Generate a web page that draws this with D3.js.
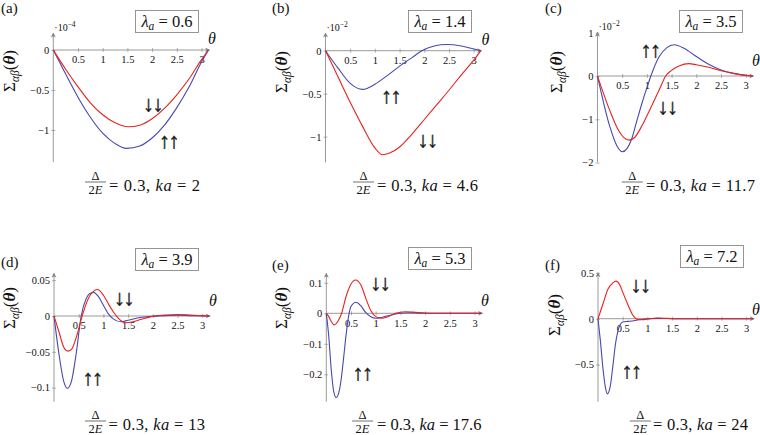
<!DOCTYPE html>
<html>
<head>
<meta charset="utf-8">
<script src="https://cdn.jsdelivr.net/npm/d3@7"></script>
<style>
body { margin: 0; background: #fff; }
text { font-family: "Liberation Serif", "DejaVu Serif", serif; fill: #111; }
</style>
</head>
<body>
<svg id="chart" width="760" height="435"></svg>
<script>
// values
var panelLetters = ["a", "b", "c", "d", "e", "f"];
var lambdaValues = [0.6, 1.4, 3.5, 3.9, 5.3, 7.2];
var kaValues = [2, 4.6, 11.7, 13, 17.6, 24];
var deltaRatio = 0.3;
var xTicks = [0.5, 1, 1.5, 2, 2.5, 3];
var yTickSets = [[-1, -0.5, 0], [-1, -0.5, 0], [-2, -1, 0, 1], [-0.1, -0.05, 0, 0.05], [-0.2, -0.1, 0, 0.1], [-0.5, 0, 0.5]];
var yExponents = [-4, -2, -2, null, null, null];

// [theta, Sigma] ; "up" = ↑↑ (blue), "down" = ↓↓ (red)
var aUp = [[0,0],[0.25,-0.30],[0.5,-0.59],[0.75,-0.84],[1,-1.04],[1.25,-1.17],[1.48,-1.23],[1.75,-1.2],[2,-1.1],[2.25,-0.94],[2.5,-0.72],[2.75,-0.46],[3,-0.15],[3.1416,0]];
var aDown = [[0,0],[0.25,-0.24],[0.5,-0.46],[0.75,-0.66],[1,-0.81],[1.25,-0.91],[1.52,-0.96],[1.75,-0.94],[2,-0.86],[2.25,-0.73],[2.5,-0.56],[2.75,-0.36],[3,-0.12],[3.1416,0]];
var bUp = [[0,0],[0.25,-0.2],[0.5,-0.38],[0.75,-0.45],[1,-0.39],[1.25,-0.29],[1.5,-0.18],[1.75,-0.08],[1.95,0],[2.2,0.055],[2.45,0.072],[2.75,0.055],[3,0.02],[3.1416,0]];
var bDown = [[0,0],[0.25,-0.3],[0.5,-0.6],[0.75,-0.88],[1,-1.13],[1.15,-1.21],[1.3,-1.19],[1.5,-1.12],[1.75,-0.97],[2,-0.8],[2.25,-0.63],[2.5,-0.46],[2.75,-0.28],[3,-0.11],[3.1416,0]];
var cUp = [[0,0],[0.25,-1.17],[0.4,-1.63],[0.5,-1.75],[0.6,-1.67],[0.69,-1.46],[0.8,-1.02],[0.9,-0.63],[1,-0.27],[1.08,0],[1.25,0.45],[1.4,0.65],[1.55,0.72],[1.75,0.64],[2,0.45],[2.25,0.27],[2.5,0.14],[2.75,0.06],[3,0.015],[3.1416,0]];
var cDown = [[0,0],[0.25,-0.8],[0.4,-1.2],[0.5,-1.38],[0.64,-1.48],[0.75,-1.42],[0.9,-1.15],[1,-0.92],[1.15,-0.56],[1.25,-0.32],[1.38,0],[1.5,0.13],[1.65,0.23],[1.85,0.285],[2,0.26],[2.25,0.2],[2.5,0.12],[2.75,0.06],[3,0.015],[3.1416,0]];
var dUp = [[0,0],[0.1,-0.053],[0.2,-0.092],[0.27,-0.101],[0.35,-0.092],[0.45,-0.052],[0.55,0],[0.65,0.024],[0.72,0.031],[0.8,0.033],[0.9,0.027],[1,0.015],[1.1,0.003],[1.2,-0.004],[1.35,-0.008],[1.5,-0.006],[1.75,-0.002],[2,-0.0005],[2.25,0.0005],[2.5,0.001],[2.75,0.0005],[3.1416,0]];
var dDown = [[0,0],[0.1,-0.022],[0.2,-0.044],[0.28,-0.049],[0.35,-0.047],[0.45,-0.03],[0.57,0],[0.7,0.025],[0.88,0.037],[1,0.029],[1.1,0.017],[1.2,0.006],[1.3,-0.003],[1.45,-0.0095],[1.6,-0.008],[1.75,-0.005],[2,-0.0005],[2.25,0.0014],[2.5,0.002],[2.75,0.0014],[3,0.0005],[3.1416,0]];
var eUp = [[0,0],[0.05,-0.076],[0.1,-0.185],[0.15,-0.256],[0.2,-0.276],[0.25,-0.262],[0.3,-0.218],[0.35,-0.147],[0.4,-0.071],[0.45,-0.011],[0.5,0.022],[0.6,0.036],[0.7,0.024],[0.8,0.002],[0.9,-0.011],[1,-0.016],[1.1,-0.014],[1.25,-0.008],[1.5,0],[1.65,0.002],[1.8,0.001],[2,0],[3.1416,0]];
var eDown = [[0,0],[0.05,-0.011],[0.1,-0.027],[0.16,-0.038],[0.25,-0.022],[0.31,0],[0.4,0.055],[0.5,0.096],[0.59,0.109],[0.7,0.093],[0.8,0.049],[0.9,0.009],[1,-0.011],[1.1,-0.016],[1.25,-0.011],[1.4,0],[1.6,0.005],[1.75,0.004],[2,0.001],[2.25,0],[3.1416,0]];
var fUp = [[0,0],[0.05,-0.25],[0.1,-0.54],[0.15,-0.75],[0.19,-0.82],[0.25,-0.73],[0.3,-0.52],[0.35,-0.29],[0.4,-0.14],[0.45,-0.064],[0.5,-0.036],[0.6,-0.029],[0.7,-0.025],[0.8,-0.014],[0.9,-0.007],[1,0],[1.2,0.004],[1.4,0.002],[1.6,0],[3.1416,0]];
var fDown = [[0,0],[0.1,0.16],[0.2,0.32],[0.3,0.39],[0.36,0.41],[0.45,0.36],[0.5,0.29],[0.6,0.16],[0.7,0.043],[0.8,-0.007],[0.9,-0.011],[1,-0.004],[1.2,0.007],[1.4,0.004],[1.6,0],[3.1416,0]];

var upSeries = [aUp, bUp, cUp, dUp, eUp, fUp];
var downSeries = [aDown, bDown, cDown, dDown, eDown, fDown];

// placement of each small plot (pixels)
var layout = [
    {x0: 53.3, y0: 50, ky: 80, top: 33, bottom: 162, letter: [1, 13], box: [135, 10], sig: [9, 71], th: [208, 44], cap: [95.5, 109, 200, 0], up: [167.5, 140], down: [151.5, 103]},
    {x0: 325.5, y0: 50.7, ky: 86, top: 33, bottom: 162.3, letter: [272, 13], box: [408, 10], sig: [281, 72], th: [481.5, 45], cap: [363.5, 377, 478, 0], up: [389.5, 95], down: [426, 139]},
    {x0: 597.5, y0: 76, ky: 43.3, top: 32.3, bottom: 162.3, letter: [545, 13], box: [679, 10], sig: [556, 72], th: [752, 66], cap: [632.3, 646, 755, 0], up: [649, 49], down: [666, 106]},
    {x0: 54, y0: 316, ky: 716, top: 273.3, bottom: 401.7, letter: [1, 267], box: [135, 248], sig: [9, 308], th: [209, 306], cap: [95.5, 108.5, 205, 239], up: [91, 377.5], down: [122.5, 297.5]},
    {x0: 326.3, y0: 313.3, ky: 305, top: 273.3, bottom: 401.7, letter: [272, 270], box: [408, 247], sig: [281, 308], th: [481, 306], cap: [362.5, 377, 481.5, 239], up: [361, 372.5], down: [378.7, 282]},
    {x0: 598, y0: 318.7, ky: 91.7, top: 272.7, bottom: 401.7, letter: [545, 270], box: [680, 245], sig: [554, 315], th: [752, 315], cap: [640.3, 653, 748, 239], up: [630, 370], down: [639, 284]}
];

var axisColor = "#808080";
var upColor = "#4848ad";
var downColor = "#e8231d";
var pxPerTheta = 49.4;

var svg = d3.select("#chart");

var defs = svg.append("defs");
defs.append("marker")
    .attr("id", "arr")
    .attr("viewBox", "0 0 10 10")
    .attr("refX", 9).attr("refY", 5)
    .attr("markerWidth", 5).attr("markerHeight", 5)
    .attr("markerUnits", "userSpaceOnUse")
    .attr("orient", "auto")
    .append("path")
    .attr("d", "M0,0 L10,5 L0,10 L3,5 Z")
    .attr("fill", axisColor);

function fmt(d) {
    return d < 0 ? "\u2212" + Math.abs(d) : String(d);
}

layout.forEach(function(p, i) {
    var x = d3.scaleLinear().domain([0, Math.PI]).range([p.x0, p.x0 + pxPerTheta * Math.PI]);
    var y = d3.scaleLinear()
        .domain([-(p.bottom - p.y0) / p.ky, (p.y0 - p.top) / p.ky])
        .range([p.bottom, p.top]);
    var g = svg.append("g");

    // axes lines with arrow heads
    g.append("line")
        .attr("x1", x(0)).attr("x2", x(Math.PI) + 1)
        .attr("y1", y(0)).attr("y2", y(0))
        .attr("stroke", axisColor).attr("stroke-width", 0.8)
        .attr("marker-end", "url(#arr)");
    g.append("line")
        .attr("x1", x(0)).attr("x2", x(0))
        .attr("y1", p.bottom).attr("y2", p.top)
        .attr("stroke", axisColor).attr("stroke-width", 0.8)
        .attr("marker-end", "url(#arr)");

    var gx = g.append("g")
        .attr("transform", "translate(0," + y(0) + ")")
        .call(d3.axisBottom(x).tickValues(xTicks).tickSizeInner(2).tickSizeOuter(0).tickPadding(4).tickFormat(fmt));
    gx.select(".domain").remove();
    gx.selectAll(".tick line").attr("y1", -2).attr("y2", 2).attr("stroke", axisColor).attr("stroke-width", 0.6);
    gx.selectAll(".tick text").attr("font-size", 10.5).attr("fill", "#111");

    var gy = g.append("g")
        .attr("transform", "translate(" + x(0) + ",0)")
        .call(d3.axisLeft(y).tickValues(yTickSets[i]).tickSizeInner(2).tickSizeOuter(0).tickPadding(2).tickFormat(fmt));
    gy.select(".domain").remove();
    gy.selectAll(".tick line").attr("x1", -2).attr("x2", 2).attr("stroke", axisColor).attr("stroke-width", 0.6);
    gy.selectAll(".tick text").attr("font-size", 10.5).attr("fill", "#111");

    // curves
    var line = d3.line()
        .x(function(d) { return x(d[0]); })
        .y(function(d) { return y(d[1]); })
        .curve(d3.curveMonotoneX);
    g.append("path").datum(upSeries[i])
        .attr("d", line).attr("fill", "none")
        .attr("stroke", upColor).attr("stroke-width", 1.1);
    g.append("path").datum(downSeries[i])
        .attr("d", line).attr("fill", "none")
        .attr("stroke", downColor).attr("stroke-width", 1.1);

    // multiplier
    if (yExponents[i] !== null) {
        var m = g.append("text").attr("x", x(0) + 1).attr("y", p.top - 2.5).attr("font-size", 10);
        m.append("tspan").text("\u00b710");
        m.append("tspan").attr("font-size", 7.5).attr("dy", -4).text(fmt(yExponents[i]));
    }

    // theta label
    g.append("text").attr("x", p.th[0]).attr("y", p.th[1])
        .attr("font-size", 16).attr("font-style", "italic").text("\u03b8");

    // panel letter
    g.append("text").attr("x", p.letter[0]).attr("y", p.letter[1])
        .attr("font-size", 15).text("(" + panelLetters[i] + ")");

    // lambda box
    g.append("rect").attr("x", p.box[0] + 0.5).attr("y", p.box[1] + 0.5)
        .attr("width", 63).attr("height", 22)
        .attr("fill", "#fff").attr("stroke", "#8a8a8a").attr("stroke-width", 0.9);
    var lt = g.append("text").attr("x", p.box[0] + 32).attr("y", p.box[1] + 16.5)
        .attr("text-anchor", "middle").attr("font-size", 16.5);
    lt.append("tspan").attr("font-style", "italic").text("\u03bb");
    lt.append("tspan").attr("font-style", "italic").attr("font-size", 11.5).attr("dy", 3).text("a");
    lt.append("tspan").attr("dy", -3).text(" = " + lambdaValues[i]);

    // y label
    var sl = g.append("text")
        .attr("transform", "translate(" + p.sig[0] + "," + p.sig[1] + ") rotate(-90)")
        .attr("text-anchor", "middle").attr("dy", "0.35em").attr("font-size", 17);
    sl.append("tspan").text("\u03a3");
    sl.append("tspan").attr("font-style", "italic").attr("font-size", 11.5).attr("dy", 4).text("\u03b1\u03b2");
    sl.append("tspan").attr("dy", -4).text("(");
    sl.append("tspan").attr("font-style", "italic").attr("font-weight", "bold").text("\u03b8");
    sl.append("tspan").text(")");

    // spin arrows
    g.append("text").attr("x", p.up[0] + 1).attr("y", p.up[1])
        .attr("text-anchor", "middle").attr("dy", "0.36em").attr("font-size", 22)
        .attr("fill", "#333").attr("stroke", "#333").attr("stroke-width", 0.45)
        .attr("letter-spacing", -1.5).text("\u2191\u2191");
    g.append("text").attr("x", p.down[0] + 1).attr("y", p.down[1])
        .attr("text-anchor", "middle").attr("dy", "0.36em").attr("font-size", 22)
        .attr("fill", "#333").attr("stroke", "#333").attr("stroke-width", 0.45)
        .attr("letter-spacing", -1.5).text("\u2193\u2193");

    // caption
    var off = p.cap[3];
    g.append("text").attr("x", p.cap[0]).attr("y", 180 + off)
        .attr("text-anchor", "middle").attr("font-size", 12.5).text("\u0394");
    g.append("line").attr("x1", p.cap[0] - 10.5).attr("x2", p.cap[0] + 10.5)
        .attr("y1", 182 + off).attr("y2", 182 + off)
        .attr("stroke", "#111").attr("stroke-width", 0.6);
    var den = g.append("text").attr("x", p.cap[0]).attr("y", 193.5 + off)
        .attr("text-anchor", "middle").attr("font-size", 12.5);
    den.append("tspan").text("2");
    den.append("tspan").attr("font-style", "italic").text("E");
    var ct = g.append("text").attr("x", p.cap[1]).attr("y", 190.5 + off)
        .attr("font-size", 16.5)
        .attr("textLength", p.cap[2] - p.cap[1]).attr("lengthAdjust", "spacing");
    ct.append("tspan").text("= " + deltaRatio + ", ");
    ct.append("tspan").attr("font-style", "italic").text("ka");
    ct.append("tspan").text(" = " + kaValues[i]);
});
</script>
</body>
</html>
